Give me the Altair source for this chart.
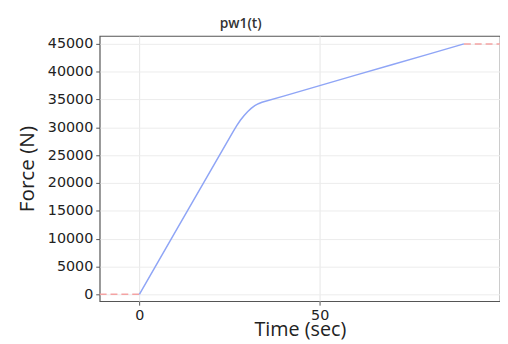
import altair as alt
import pandas as pd

# Blue solid curve
t_blue = [0, 10, 20, 26, 27, 28, 29, 30, 31, 32, 33, 34, 40, 50, 60, 70, 80, 90]
f_blue = [0, 11250, 22500, 29250, 30300, 31270, 32100, 32810, 33400, 33890, 34250, 34500,
          35620, 37500, 39380, 41250, 43120, 45000]

# Red dashed extrapolation segments
t_red = [-11, 0, 90, 100]
f_red = [0, 0, 45000, 45000]
seg_red = ["a", "a", "b", "b"]

x_ticks = [0, 50]
y_ticks = [0, 5000, 10000, 15000, 20000, 25000, 30000, 35000, 40000, 45000]

blue = pd.DataFrame({"t": t_blue, "F": f_blue})
red = pd.DataFrame({"t": t_red, "F": f_red, "seg": seg_red})

FONT = "DejaVu Sans"
TFONT = "Open Sans"
xscale = alt.Scale(domain=[-11, 100], nice=False, zero=False)
yscale = alt.Scale(domain=[-1240, 46420], nice=False, zero=False)

xaxis = alt.Axis(values=x_ticks, title="Time (sec)", grid=True, gridColor="#e6e6e6",
                 labelFont=FONT, labelFontSize=14.5, labelColor="#222", titleFont=TFONT,
                 titleFontSize=20, titleFontWeight="normal", titleColor="#222",
                 tickColor="#555", tickSize=4, domain=False, labelPadding=4, titlePadding=-3,
                 format="d", labelOverlap=False, tickCount=2)
yaxis = alt.Axis(values=y_ticks, title="Force (N)", grid=True, gridColor="#ececec",
                 labelFont=FONT, labelFontSize=14.5, labelColor="#222", titleFont=TFONT,
                 titleFontSize=21, titleFontWeight="normal", titleColor="#222",
                 tickColor="#555", tickSize=4, domain=False, labelPadding=3, titlePadding=10,
                 format="d", labelOverlap=False, tickCount=10)

line_blue = alt.Chart(blue).mark_line(color="#8fa5f6", strokeWidth=1.5).encode(
    x=alt.X("t:Q", scale=xscale, axis=xaxis),
    y=alt.Y("F:Q", scale=yscale, axis=yaxis),
)

line_red = alt.Chart(red).mark_line(color="#f4a3a3", strokeWidth=1.5, strokeDash=[7, 4]).encode(
    x=alt.X("t:Q", scale=xscale, axis=xaxis),
    y=alt.Y("F:Q", scale=yscale, axis=yaxis),
    detail="seg:N",
)

chart = alt.layer(line_red, line_blue).properties(
    width=406, height=269,
    title=alt.TitleParams("pw1(t)", font=TFONT, fontSize=14, fontWeight=600,
                          color="#333", dx=-60, offset=5),
    autosize=alt.AutoSizeParams(type="none"),
    padding={"left": 93, "top": 26, "right": 0, "bottom": 40},
).configure_view(stroke="#555", strokeWidth=1.2)

chart.save("out.html", embed_options={"renderer": "svg", "actions": False})
